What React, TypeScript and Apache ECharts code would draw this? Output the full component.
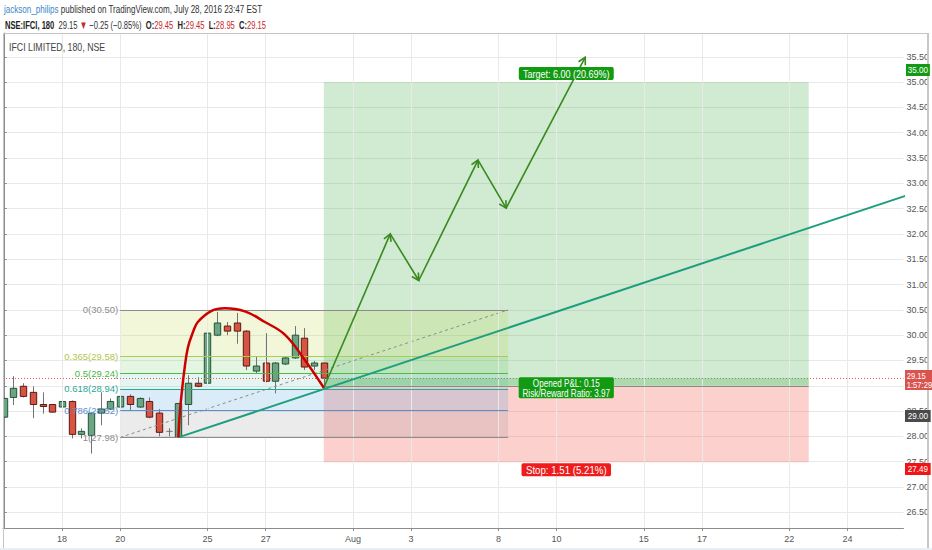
import React, { useEffect, useRef } from "react";
import * as echarts from "echarts";

const FONT = "'Liberation Sans', Arial, sans-serif";

// Candles (bar index, 3 bars per trading day)
const barIndex = [0,1,2,3,4,5,6,7,8,9,10,11,12,13,14,15,16,17,18,19,20,21,22,23,24,25,26,27,28,29,30,31,32,33];
const opens  = [28.38,28.77,28.99,28.87,28.63,28.63,28.58,28.69,28.04,28.02,28.46,28.54,28.58,28.79,28.58,28.69,28.46,28.10,27.98,28.63,29.05,29.05,30.00,30.18,30.24,30.08,29.29,29.45,29.09,29.43,29.55,29.94,29.39,29.45];
const closes = [28.75,28.95,28.79,28.63,28.59,28.48,28.69,28.04,28.10,28.46,28.54,28.69,28.79,28.63,28.75,28.38,28.08,28.10,28.65,29.05,28.99,30.04,30.24,30.08,30.08,29.39,29.39,29.09,29.45,29.55,30.00,29.37,29.45,29.15];
const lows   = [28.36,28.62,28.77,28.36,28.45,28.47,28.50,27.96,27.96,27.66,28.22,28.52,28.52,28.52,28.56,28.36,28.00,28.00,27.98,28.22,28.97,28.77,29.98,30.00,29.83,29.31,29.25,29.07,28.85,29.41,29.53,29.31,29.31,28.95];
const highs  = [28.77,29.19,29.05,28.99,28.87,28.64,28.85,28.71,28.16,28.47,28.87,28.75,28.89,28.83,28.77,28.77,28.54,28.16,28.65,29.21,29.17,30.34,30.46,30.26,30.44,30.10,29.57,30.04,29.47,29.57,30.18,30.14,29.49,29.45];

// x-axis date labels
const tickIdx = [6, 12, 21, 27, 36, 42, 51, 57, 66, 72, 81, 87];
const tickLabels = ["18", "20", "25", "27", "Aug", "3", "8", "10", "15", "17", "22", "24"];

// Fibonacci retracement
const fibRatios = ["0", "0.365", "0.5", "0.618", "0.786", "1"];
const fibLevels = [30.5, 29.58, 29.24, 28.94, 28.52, 27.98];
const fibLineColors = ["#8c8c8c", "#a9cc52", "#4cbb4c", "#2aa896", "#5b8fcf", "#8c8c8c"];
const fibTextColors = ["#8c8c8c", "#b3c64a", "#44b844", "#2aa896", "#5b8fcf", "#8c8c8c"];
const fibFills = ["rgba(190,215,70,0.20)", "rgba(90,190,70,0.16)", "rgba(40,170,140,0.12)", "rgba(70,160,220,0.20)", "rgba(130,130,130,0.16)"];
const fibStart = 12;
const fibEnd = 52;

// Long position tool
const posStart = 33;
const posEnd = 83;
const entryPrice = 29.0;
const targetPrice = 35.0;
const stopPrice = 27.49;
const currentPrice = 29.15;

// Position tool notes
const noteText = ["Target: 6.00 (20.69%)", "Opened P&L: 0.15\nRisk/Reward Ratio: 3.97", "Stop: 1.51 (5.21%)"];
const noteX = [58, 58, 58];
const noteY = [targetPrice, 28.96, stopPrice];

// Arc drawing (read points)
const arcX = [18, 18.16, 18.33, 18.6, 18.98, 19.53, 20.01, 21.43, 22.8, 24.86, 26.92, 28.98, 31.04, 33.0];
const arcY = [27.98, 28.49, 28.82, 29.28, 29.75, 30.07, 30.26, 30.48, 30.53, 30.47, 30.26, 30.01, 29.51, 28.96];

// Trend line
const trendX = [18, 100];
const trendY = [27.98, 33.2];

// Projection arrows
const arrowX = [33, 39.85, 42.79, 48.9, 51.8, 59.95];
const arrowY = [28.96, 32.0, 31.08, 33.46, 32.51, 35.49];

export default function App() {
  const ref = useRef<HTMLDivElement>(null);

  useEffect(() => {
    if (!ref.current) return;
    const chart = echarts.init(ref.current, null, { renderer: "svg" });

    const candleData = barIndex.map((i, k) => [i, opens[k], closes[k], lows[k], highs[k]]);
    const arcData = arcX.map((x, k) => [x, arcY[k]]);
    const trendData = trendX.map((x, k) => [x, trendY[k]]);
    const arrowData = arrowX.map((x, k) => [x, arrowY[k]]);
    const noteData = noteX.map((x, k) => [x, noteY[k], k]);

    const noteBg = ["#139a13", "#139a13", "#ee1c1c"];
    const noteAlign = ["bottom", "middle", "top"];
    const noteDy = [-2, 0, 1];
    const noteScale = [0.82, 0.74, 0.88];

    const fibAreas = fibFills.map((c, k) => [
      { coord: [fibStart, fibLevels[k]], itemStyle: { color: c } },
      { coord: [fibEnd, fibLevels[k + 1]] },
    ]);
    const fibLines = fibLevels.map((lv, k) => [
      {
        coord: [fibStart, lv],
        lineStyle: { color: fibLineColors[k], width: 1, type: "solid" },
        label: {
          show: true,
          position: "start",
          distance: 2,
          formatter: fibRatios[k] + "(" + lv.toFixed(2) + ")",
          color: fibTextColors[k],
          fontSize: 9.5,
          fontFamily: FONT,
        },
      },
      { coord: [fibEnd, lv] },
    ]);

    const option: any = {
      animation: false,
      backgroundColor: "#ffffff",
      grid: { left: 3, right: 28, top: 33, bottom: 22, containLabel: false },
      xAxis: {
        type: "value",
        min: -0.08,
        max: 92.77,
        position: "bottom",
        axisLine: { show: true, lineStyle: { color: "#8c8c8c" } },
        axisTick: { show: true, length: 3, customValues: tickIdx, lineStyle: { color: "#8c8c8c" } },
        axisLabel: {
          customValues: tickIdx,
          formatter: (v: number) => {
            const k = tickIdx.indexOf(Math.round(v));
            return k >= 0 ? tickLabels[k] : "";
          },
          fontSize: 9,
          color: "#555",
          fontFamily: FONT,
          margin: 6,
        },
        splitLine: { show: false },
      },
      yAxis: {
        type: "value",
        position: "right",
        min: 26.19,
        max: 35.97,
        splitNumber: 20,
        minInterval: 0.5,
        maxInterval: 0.5,
        scale: true,
        axisLine: { show: true, lineStyle: { color: "#8c8c8c" } },
        axisTick: { show: true, length: 3, lineStyle: { color: "#8c8c8c" } },
        axisLabel: {
          formatter: (v: number) => (Math.abs(v - 29) < 1e-6 ? "" : v.toFixed(2)),
          fontSize: 9,
          color: "#555",
          fontFamily: FONT,
          margin: 3,
          showMinLabel: false,
          showMaxLabel: false,
        },
        splitLine: { show: true, lineStyle: { color: "#e9e9e9" } },
      },
      series: [
        {
          type: "line",
          name: "grid",
          data: [],
          z: 1,
          silent: true,
          markLine: {
            silent: true,
            symbol: ["none", "none"],
            label: { show: false },
            lineStyle: { color: "#e9e9e9", width: 1, type: "solid" },
            data: tickIdx.map((i) => ({ xAxis: i })),
          },
          markArea: {
            silent: true,
            data: [
              [{ coord: [posStart, entryPrice], itemStyle: { color: "rgba(76,175,80,0.26)" } }, { coord: [posEnd, targetPrice] }],
              [{ coord: [posStart, stopPrice], itemStyle: { color: "rgba(244,67,54,0.25)" } }, { coord: [posEnd, entryPrice] }],
              [{ coord: [posStart, entryPrice], itemStyle: { color: "rgba(76,175,80,0.28)" } }, { coord: [posEnd, currentPrice] }],
            ],
          },
        },
        {
          type: "line",
          name: "fib",
          data: [],
          z: 2,
          silent: true,
          markArea: { silent: true, data: fibAreas },
          markLine: { silent: true, symbol: ["none", "none"], data: fibLines },
        },
        {
          type: "custom",
          name: "candles",
          z: 3,
          clip: true,
          encode: { x: 0, y: [1, 2, 3, 4] },
          data: candleData,
          renderItem: (params: any, api: any) => {
            const i = api.value(0);
            const o = api.value(1);
            const c = api.value(2);
            const l = api.value(3);
            const h = api.value(4);
            const po = api.coord([i, o]);
            const pc = api.coord([i, c]);
            const pl = api.coord([i, l]);
            const ph = api.coord([i, h]);
            const w = api.size([1, 0])[0] * 0.66;
            const x = Math.round(po[0]) + 0.5;
            const children: any[] = [
              {
                type: "line",
                shape: { x1: x, y1: ph[1], x2: x, y2: pl[1] },
                style: { stroke: "#737375", lineWidth: 1 },
              },
            ];
            if (Math.abs(o - c) < 1e-6) {
              children.push({
                type: "line",
                shape: { x1: x - w / 2, y1: po[1], x2: x + w / 2, y2: po[1] },
                style: { stroke: "#737375", lineWidth: 1 },
              });
            } else {
              const up = c > o;
              const top = Math.min(po[1], pc[1]);
              const bh = Math.max(1, Math.abs(po[1] - pc[1]));
              children.push({
                type: "rect",
                shape: { x: x - w / 2, y: top, width: w, height: bh },
                style: {
                  fill: up ? "#6ba583" : "#d75442",
                  stroke: up ? "#225437" : "#5b1a13",
                  lineWidth: 1,
                },
              });
            }
            return { type: "group", children };
          },
        },
        {
          type: "line",
          name: "fibTrend",
          z: 4,
          silent: true,
          symbol: "none",
          data: [[fibStart, fibLevels[5]], [fibEnd, fibLevels[0]]],
          lineStyle: { color: "#8c8c8c", width: 1, type: [3, 3] },
        },
        {
          type: "line",
          name: "levels",
          data: [],
          z: 4,
          silent: true,
          markLine: {
            silent: true,
            symbol: ["none", "none"],
            label: { show: false },
            data: [
              { yAxis: currentPrice, lineStyle: { color: "#e05a5a", width: 1, type: [1, 2] } },
              [
                { coord: [posStart, currentPrice], lineStyle: { color: "#7a9a7a", width: 1, type: [1, 2] } },
                { coord: [posEnd, currentPrice] },
              ],
              [
                { coord: [posStart, entryPrice], lineStyle: { color: "#8a8a8a", width: 1, type: "solid" } },
                { coord: [posEnd, entryPrice] },
              ],
            ],
          },
        },
        {
          type: "line",
          name: "trend",
          z: 5,
          silent: true,
          symbol: "none",
          clip: true,
          data: trendData,
          lineStyle: { color: "#1f9e7f", width: 2 },
        },
        {
          type: "line",
          name: "arc",
          z: 6,
          silent: true,
          symbol: "none",
          smooth: 0.4,
          data: arcData,
          lineStyle: { color: "#cc0000", width: 2.5 },
        },
        {
          type: "custom",
          name: "arrows",
          z: 6,
          clip: true,
          silent: true,
          encode: { x: 0, y: 1 },
          data: arrowData,
          renderItem: (params: any, api: any) => {
            const k = params.dataIndex;
            if (k >= arrowData.length - 1) return null;
            const p1 = api.coord(arrowData[k]);
            const p2 = api.coord(arrowData[k + 1]);
            const ang = Math.atan2(p2[1] - p1[1], p2[0] - p1[0]);
            const L = 8;
            const a1 = ang + Math.PI - 0.5;
            const a2 = ang + Math.PI + 0.5;
            return {
              type: "group",
              children: [
                {
                  type: "line",
                  shape: { x1: p1[0], y1: p1[1], x2: p2[0], y2: p2[1] },
                  style: { stroke: "#378a1e", lineWidth: 1.6 },
                },
                {
                  type: "polyline",
                  shape: {
                    points: [
                      [p2[0] + L * Math.cos(a1), p2[1] + L * Math.sin(a1)],
                      [p2[0], p2[1]],
                      [p2[0] + L * Math.cos(a2), p2[1] + L * Math.sin(a2)],
                    ],
                  },
                  style: { stroke: "#378a1e", lineWidth: 1.6, fill: "none" },
                },
              ],
            };
          },
        },
        {
          type: "custom",
          name: "notes",
          z: 8,
          silent: true,
          encode: { x: 0, y: 1 },
          data: noteData,
          renderItem: (params: any, api: any) => {
            const k = params.dataIndex;
            const p = api.coord([api.value(0), api.value(1)]);
            return {
              type: "text",
              x: p[0],
              y: p[1] + noteDy[k],
              scaleX: noteScale[k],
              style: {
                text: noteText[k],
                font: "11px " + FONT,
                fill: "#ffffff",
                align: "center",
                verticalAlign: noteAlign[k],
                lineHeight: 10,
                backgroundColor: noteBg[k],
                padding: k === 1 ? [1, 5, 0, 5] : [2, 5, 1, 5],
                borderRadius: 2,
              },
            };
          },
        },
      ],
      graphic: [
        {
          type: "text",
          z: 0,
          silent: true,
          x: 508,
          y: 245,
          style: {
            text: "IFCI, 180",
            font: "48px " + FONT,
            fill: "rgba(0,0,0,0.018)",
            align: "center",
            verticalAlign: "middle",
          },
        },
        {
          type: "rect",
          z: 100,
          silent: true,
          shape: { x: 3.5, y: 33.5, width: 925, height: 515 },
          style: { fill: "none", stroke: "#c4c4c4", lineWidth: 1 },
        },
        {
          type: "rect",
          z: 100,
          silent: true,
          shape: { x: 927, y: 33, width: 2, height: 516 },
          style: { fill: "#c8c8c8" },
        },
        {
          type: "rect",
          z: 100,
          silent: true,
          shape: { x: 0, y: 548, width: 932, height: 2 },
          style: { fill: "#e9eef2" },
        },
        {
          type: "text",
          z: 100,
          x: 4,
          y: 9,
          scaleX: 0.7,
          style: {
            text: "{u|jackson_philips} {t|published on TradingView.com, July 28, 2016 23:47 EST}",
            font: "11.5px " + FONT,
            verticalAlign: "middle",
            rich: {
              u: { fill: "#3b87c8", fontSize: 11.5, fontFamily: FONT },
              t: { fill: "#333333", fontSize: 11.5, fontFamily: FONT },
            },
          },
        },
        {
          type: "text",
          z: 100,
          x: 5,
          y: 25,
          scaleX: 0.66,
          style: {
            text:
              "{b|NSE:IFCI, 180}  {n|29.15} {r|▼} {n|−0.25 (−0.85%)}  {b|O:}{r|29.45}  {b|H:}{r|29.45}  {b|L:}{r|28.95}  {b|C:}{r|29.15}",
            font: "11.5px " + FONT,
            verticalAlign: "middle",
            rich: {
              b: { fill: "#222222", fontSize: 11.5, fontWeight: "bold", fontFamily: FONT },
              n: { fill: "#333333", fontSize: 11.5, fontFamily: FONT },
              r: { fill: "#c62828", fontSize: 11.5, fontFamily: FONT },
            },
          },
        },
        {
          type: "text",
          z: 100,
          x: 9,
          y: 47,
          scaleX: 0.88,
          style: {
            text: "IFCI LIMITED, 180, NSE",
            font: "10px " + FONT,
            fill: "#444",
            verticalAlign: "middle",
          },
        },
        {
          type: "text",
          z: 100,
          x: 906,
          y: 70,
          scaleX: 0.9,
          style: {
            text: "35.00",
            font: "9px " + FONT,
            fill: "#fff",
            backgroundColor: "#139a13",
            padding: [2, 2, 1, 2],
            verticalAlign: "middle",
          },
        },
        {
          type: "text",
          z: 100,
          x: 905,
          y: 380,
          scaleX: 0.85,
          style: {
            text: "29.15\n1:57:29",
            font: "9px " + FONT,
            fill: "#fff",
            backgroundColor: "#d9534f",
            padding: [1, 2, 1, 2],
            lineHeight: 9,
            verticalAlign: "middle",
          },
        },
        {
          type: "text",
          z: 100,
          x: 905,
          y: 416,
          scaleX: 0.9,
          style: {
            text: "29.00",
            font: "9px " + FONT,
            fill: "#fff",
            backgroundColor: "#4a4a4a",
            padding: [2, 3, 1, 3],
            verticalAlign: "middle",
          },
        },
        {
          type: "text",
          z: 100,
          x: 905,
          y: 469,
          scaleX: 0.9,
          style: {
            text: "27.49",
            font: "9px " + FONT,
            fill: "#fff",
            backgroundColor: "#f01414",
            padding: [2, 3, 1, 3],
            verticalAlign: "middle",
          },
        },
      ],
    };

    chart.setOption(option);
    return () => chart.dispose();
  }, []);

  return (
    <div
      ref={ref}
      style={{ position: "fixed", left: 0, top: 0, width: 932, height: 550, background: "#fff" }}
    />
  );
}
